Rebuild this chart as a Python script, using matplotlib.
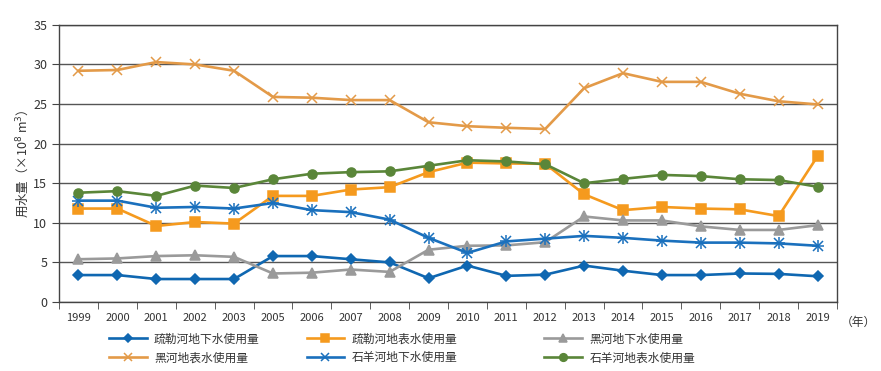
import matplotlib
matplotlib.use('Agg')
import matplotlib.pyplot as plt
import numpy as np

plt.rcParams['font.family'] = ['Noto Sans CJK SC', 'DejaVu Sans']

years = ['1999', '2000', '2001', '2002', '2003', '2005', '2006', '2007', '2008', '2009',
         '2010', '2011', '2012', '2013', '2014', '2015', '2016', '2017', '2018', '2019']

shule_ground = [3.4, 3.4, 2.9, 2.9, 2.9, 5.8, 5.8, 5.4, 5.0, 3.0,
                4.6, 3.3, 3.45, 4.6, 3.95, 3.4, 3.4, 3.6, 3.55, 3.25]
shule_surface = [11.8, 11.8, 9.6, 10.1, 9.9, 13.4, 13.4, 14.2, 14.5, 16.4,
                 17.6, 17.5, 17.45, 13.6, 11.6, 12.0, 11.8, 11.7, 10.85, 18.4]
hei_ground = [5.4, 5.5, 5.8, 5.9, 5.7, 3.6, 3.7, 4.1, 3.8, 6.6,
              7.1, 7.15, 7.55, 10.8, 10.3, 10.3, 9.55, 9.1, 9.1, 9.7]
hei_surface = [29.2, 29.3, 30.3, 30.0, 29.2, 25.9, 25.8, 25.5, 25.5, 22.7,
               22.2, 22.0, 21.85, 27.0, 28.9, 27.8, 27.8, 26.3, 25.35, 24.95]
shiyang_ground = [12.8, 12.8, 11.9, 12.0, 11.8, 12.5, 11.6, 11.35, 10.4, 8.1,
                  6.2, 7.65, 8.0, 8.35, 8.1, 7.75, 7.5, 7.5, 7.4, 7.1]
shiyang_surface = [13.8, 14.0, 13.4, 14.7, 14.4, 15.5, 16.2, 16.4, 16.5, 17.2,
                   17.9, 17.75, 17.4, 15.0, 15.55, 16.05, 15.9, 15.5, 15.4, 14.55]

series = [
    ('疏勒河地下水使用量', shule_ground, '#0f67b1', 'D', 5),
    ('疏勒河地表水使用量', shule_surface, '#f59a1e', 's', 7.5),
    ('黑河地下水使用量', hei_ground, '#9a9a9a', '^', 6.5),
    ('黑河地表水使用量', hei_surface, '#e39a48', 'x', 7),
    ('石羊河地下水使用量', shiyang_ground, '#1a70bd', 'x', 7),
    ('石羊河地表水使用量', shiyang_surface, '#5a8639', 'o', 6.5),
]

fig = plt.figure(figsize=(8.81, 3.71), dpi=100)
ax = fig.add_axes([0.067, 0.186, 0.883, 0.747])

x = np.arange(len(years))
handles = []
for name, vals, col, mk, ms in series:
    h, = ax.plot(x, vals, color=col, lw=1.9, marker=mk, ms=ms, mew=1.1, label=name, zorder=3)
    if name == '石羊河地下水使用量':
        ax.plot(x, vals, color=col, lw=0, marker='+', ms=ms + 1.5, mew=1.1, zorder=3)
    handles.append(h)

ax.set_xlim(-0.5, len(years) - 0.5)
ax.set_ylim(0, 35)
ax.set_yticks(range(0, 36, 5))
ax.yaxis.grid(True, color='#555555', lw=1)
ax.set_axisbelow(True)

ax.set_xticks(x)
ax.set_xticklabels(years, fontsize=8, color='#333333')
ax.set_xticks(np.arange(-0.5, len(years), 1), minor=True)
ax.tick_params(axis='x', which='major', length=0, pad=8)
ax.tick_params(axis='x', which='minor', length=5, direction='out', color='#444444')
ax.tick_params(axis='y', labelsize=9, labelcolor='#333333', length=5, direction='out', color='#444444')

for s in ['left', 'right', 'bottom', 'top']:
    ax.spines[s].set_color('#444444')
    ax.spines[s].set_linewidth(1)

ax.set_ylabel('用水量（×10$^8$ m$^3$）', fontsize=9, color='#333333', labelpad=1)
ax.text(1.005, -0.075, '（年）', transform=ax.transAxes, fontsize=8.5, color='#333333',
        ha='left', va='center')

# one legend per column, rows read left to right
col_x = [0.124, 0.348, 0.618]
for i in range(3):
    hs = [handles[i], handles[i + 3]]
    leg = fig.legend(hs, [h.get_label() for h in hs], loc='upper left',
                     bbox_to_anchor=(col_x[i], 0.104), frameon=False, fontsize=8.5,
                     handlelength=3.2, labelspacing=0.5, handletextpad=0.6,
                     borderpad=0, borderaxespad=0, markerscale=0.85)
    for t in leg.get_texts():
        t.set_color('#333333')

fig.savefig('out.png', dpi=100)
